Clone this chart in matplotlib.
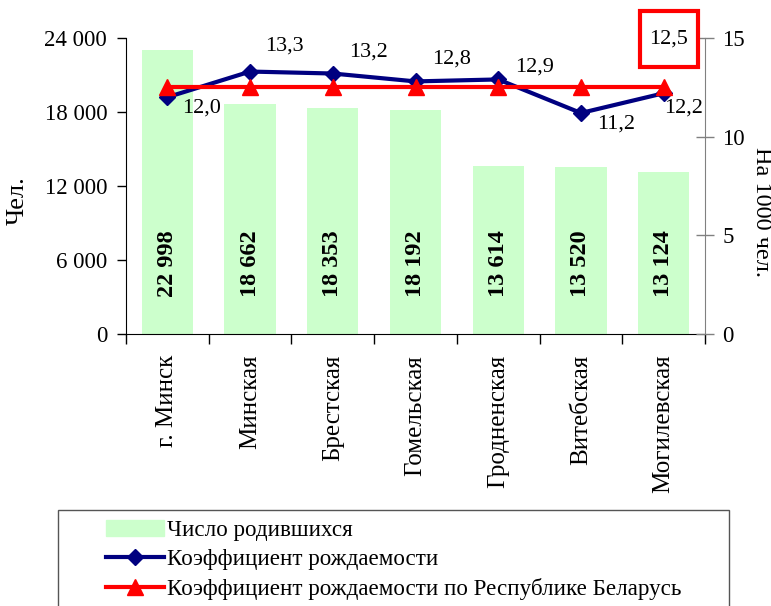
import numpy as np
import matplotlib
matplotlib.use("Agg")
import matplotlib.pyplot as plt
from matplotlib.patches import Rectangle
from matplotlib.lines import Line2D

plt.rcParams["font.family"] = ["Liberation Serif", "DejaVu Serif"]

# ---- data ----
regions = ["г. Минск", "Минская", "Брестская", "Гомельская",
           "Гродненская", "Витебская", "Могилевская"]
births = [22998, 18662, 18353, 18192, 13614, 13520, 13124]
rate = [12.0, 13.3, 13.2, 12.8, 12.9, 11.2, 12.2]
rate_rb = [12.5] * 7

left_ticks = [0, 6000, 12000, 18000, 24000]
right_ticks = [0, 5, 10, 15]

# label offsets (pixels) for the region rate labels
label_off = [(34, -11), (34, 25), (36, 21), (36, 22), (36, 12), (35, -11), (20, -15)]

GREEN = "#CCFFCC"
BLUE = "#000080"
RED = "#FF0000"

W, H = 771, 606
fig = plt.figure(figsize=(W / 100, H / 100), dpi=100)
ax = fig.add_axes([126 / W, 1 - 334 / H, (705 - 126) / W, (334 - 38) / H])
ax2 = ax.twinx()

x = np.arange(len(regions))
ax.bar(x, births, width=0.62, color=GREEN, zorder=1)
ax.set_xlim(-0.5, len(regions) - 0.5)
ax.set_ylim(0, 24000)
ax.set_yticks(left_ticks)
ax.set_yticklabels([f"{v:,}".replace(",", " ") for v in left_ticks], fontsize=16.5)
ax.tick_params(axis="y", direction="out", length=6.5, width=1, pad=7)

# category boundaries as ticks, names on minor ticks
ax.set_xticks(np.arange(-0.5, len(regions), 1.0))
ax.set_xticklabels([])
ax.tick_params(axis="x", which="major", direction="out", length=7, width=1)
ax.set_xticks(x, minor=True)
ax.set_xticklabels(regions, minor=True, rotation=90, fontsize=18, va="top", ha="center")
ax.tick_params(axis="x", which="minor", length=0, pad=15)

for xi, b in zip(x, births):
    ax.text(xi, 3000, f"{b:,}".replace(",", " "), rotation=90, ha="center",
            va="bottom", fontsize=17.5, fontweight="bold", zorder=3)

ax.spines["top"].set_visible(False)
ax.spines["right"].set_visible(False)
fig.text(18 / W, 1 - 201 / H, "Чел.", rotation=90, ha="center", va="center", fontsize=19)

ax2.plot(x, rate, color=BLUE, lw=3, marker="D", ms=8, zorder=3)
ax2.plot(x, rate_rb, color=RED, lw=3, marker="^", ms=11, zorder=4)
ax2.set_ylim(0, 15)
ax2.set_yticks(right_ticks)
ax2.set_yticklabels([str(v) for v in right_ticks], fontsize=16.5)
ax2.tick_params(axis="y", direction="inout", length=13, width=1, pad=6, color="#808080")
ax2.spines["right"].set_color("#808080")
for s in ["top", "left", "bottom"]:
    ax2.spines[s].set_visible(False)
fig.text(761 / W, 1 - 212 / H, "На 1000 чел.", rotation=-90, ha="center", va="center",
         fontsize=17.5)

for xi, r, (dx, dy) in zip(x, rate, label_off):
    ax2.annotate(f"{r:.1f}".replace(".", ","), (xi, r), xytext=(dx, dy),
                 textcoords="offset pixels", ha="center", va="center", fontsize=16)

ax2.annotate(f"{rate_rb[-1]:.1f}".replace(".", ","), (x[-1], rate_rb[-1]), xytext=(5, 48),
             textcoords="offset pixels", ha="center", va="center", fontsize=16)
fig.patches.append(Rectangle((640 / W, 1 - 67 / H), 58 / W, 56 / H, fill=False,
                             edgecolor=RED, lw=3, transform=fig.transFigure))

# legend frame runs off the bottom of the figure
fig.patches.append(Rectangle((58 / W, -0.05), (729 - 58) / W, 1 - 510 / H + 0.05,
                             fill=False, edgecolor="#555555", lw=1, transform=fig.transFigure))
handles = [
    Rectangle((0, 0), 1, 1, color=GREEN),
    Line2D([], [], color=BLUE, lw=3, marker="D", ms=8),
    Line2D([], [], color=RED, lw=3, marker="^", ms=11),
]
labels = ["Число родившихся", "Коэффициент рождаемости",
          "Коэффициент рождаемости по Республике Беларусь"]
fig.legend(handles, labels, loc="upper left", bbox_to_anchor=(106 / W, 1 - 520 / H),
           frameon=False, fontsize=16.6, handlelength=2.5, handletextpad=0.15,
           labelspacing=0.35, borderpad=0, borderaxespad=0)

fig.savefig("out.png", dpi=100)
